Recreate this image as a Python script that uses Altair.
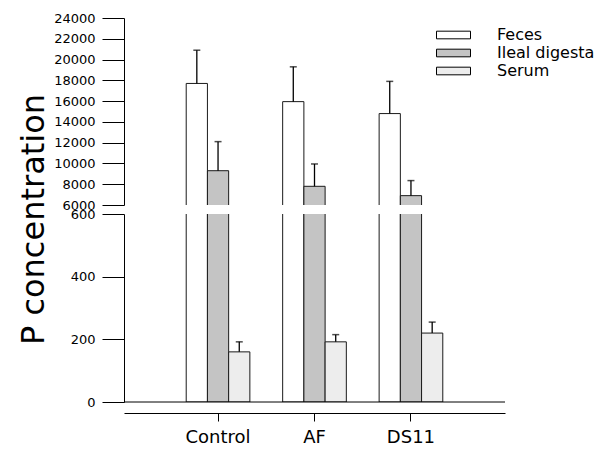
import altair as alt
import pandas as pd

groups = ["Control", "AF", "DS11"]
series = ["Feces", "Ileal digesta", "Serum"]
feces_mean = [17700, 15950, 14800]
feces_se = [3200, 3350, 3100]
ileal_mean = [9300, 7800, 6900]
ileal_se = [2800, 2150, 1450]
serum_mean = [160, 192, 220]
serum_se = [32, 23, 35]
upper_ticks = [6000, 8000, 10000, 12000, 14000, 16000, 18000, 20000, 22000, 24000]
lower_ticks = [0, 200, 400, 600]
fills = ["white", "#c4c4c4", "#ededed"]

rows = []
for s, means, ses in zip(series, [feces_mean, ileal_mean, serum_mean],
                         [feces_se, ileal_se, serum_se]):
    for g, m, e in zip(groups, means, ses):
        rows.append({"group": g, "series": s, "mean": m, "top": m + e})
df = pd.DataFrame(rows)
one = pd.DataFrame({"k": [0]})

W = 381
FONT = "DejaVu Sans"

xscale = alt.Scale(paddingInner=0.34, paddingOuter=0.645)
xoff = alt.XOffset("series:N", sort=series,
                   scale=alt.Scale(domain=series, paddingInner=0, paddingOuter=0))


def panel(lo, hi, height, ticks, title, show_x, show_legend):
    ysc = alt.Scale(domain=[lo, hi], zero=False, nice=False)
    if title:
        yax = alt.Axis(values=ticks, format="d", title=title, labelOverlap=False,
                       ticks=True, tickSize=22, grid=False, titleY=201)
    else:
        yax = alt.Axis(values=ticks, format="d", title=None, labelOverlap=False,
                       ticks=True, tickSize=22, grid=False)
    if show_x:
        xenc = alt.X("group:N", sort=groups, scale=xscale,
                     axis=alt.Axis(title=None, labelAngle=0))
    else:
        xenc = alt.X("group:N", sort=groups, scale=xscale, axis=None)
    if show_legend:
        leg = alt.Legend(title=None, orient="none", legendX=320.5, legendY=8,
                         symbolType="M-2,-0.45L2,-0.45L2,0.45L-2,0.45Z",
                         symbolSize=289, symbolStrokeColor="black",
                         symbolStrokeWidth=1, labelFontSize=16,
                         labelFont=FONT, labelColor="black",
                         labelOffset=34.5, rowPadding=1, padding=0,
                         labelLimit=200)
    else:
        leg = None
    base = lo - (hi - lo) * 0.02 if lo > 0 else lo
    bars = alt.Chart(df).mark_bar(stroke="#1a1a1a", strokeWidth=1, clip=True).encode(
        x=xenc, xOffset=xoff,
        y=alt.Y("mean:Q", scale=ysc, stack=None, axis=yax),
        y2=alt.datum(base),
        fill=alt.Fill("series:N", sort=series,
                      scale=alt.Scale(domain=series, range=fills), legend=leg),
    )
    err = alt.Chart(df).mark_rule(color="black", strokeWidth=1.3, clip=True).encode(
        x=xenc, xOffset=xoff, y=alt.Y("mean:Q", scale=ysc, axis=yax),
        y2=alt.Y2("top:Q"))
    caps = alt.Chart(df).mark_tick(color="black", thickness=1.5, size=7,
                                   clip=True).encode(
        x=xenc, xOffset=xoff, y=alt.Y("top:Q", scale=ysc, axis=yax))
    layers = [bars, err, caps]
    if lo == 0:
        layers.append(alt.Chart(one).mark_rule(color="black", strokeWidth=1).encode(
            x=alt.value(0), x2=alt.value("width"), y=alt.datum(0)))
    return alt.layer(*layers).properties(
        width=W, height=height, view=alt.ViewBackground(stroke="transparent"))


top = panel(6000, 24000, 187, upper_ticks, "P concentration", False, True)
bottom = panel(0, 600, 188, lower_ticks, None, True, False)

chart = alt.vconcat(top, bottom, spacing=9, bounds="flush").resolve_scale(
    fill="independent", x="independent", y="independent"
).properties(
    padding={"left": 9, "top": 4, "right": 0, "bottom": 0},
).configure(font=FONT).configure_view(
    stroke="transparent", strokeWidth=0
).configure_axisY(
    titleFontSize=32, titleFontWeight="normal", titlePadding=3,
    titleFont=FONT, titleColor="black",
    ticks=True, tickSize=22, tickColor="black", tickWidth=1, tickOpacity=1,
    labelPadding=7, labelFontSize=13, labelFont=FONT, labelColor="black",
    labelOverlap=False, grid=False, domainColor="black",
).configure_axisX(
    labelAngle=0, offset=11, ticks=True, tickSize=8, labelPadding=7,
    labelFontSize=18, labelFont=FONT, labelColor="black",
    domainColor="black", tickColor="black", grid=False,
)

chart.save("out.html", embed_options={"renderer": "svg", "actions": False})
